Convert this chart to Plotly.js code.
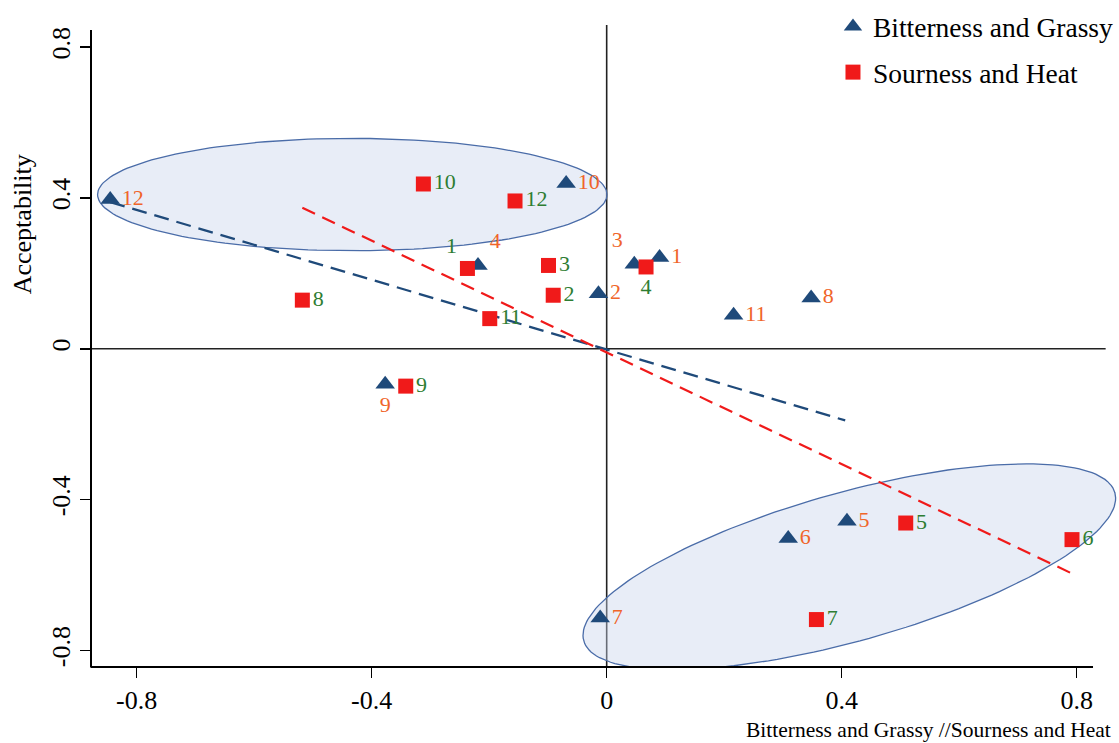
<!DOCTYPE html>
<html>
<head>
<meta charset="utf-8">
<script src="https://cdn.plot.ly/plotly-3.0.1.min.js"></script>
<style>html,body{margin:0;padding:0;background:#fff;}#chart{width:1119px;height:743px;}</style>
</head>
<body>
<div id="chart"></div>
<script>
// Bitterness and Grassy (triangles)
const bgLabels = ['12','10','4','2','3','1','11','8','9','6','5','7'];
const bgX = [-0.845, -0.069, -0.219, -0.014, 0.047, 0.090, 0.216, 0.348, -0.377, 0.309, 0.409, -0.011];
const bgY = [0.396, 0.438, 0.221, 0.146, 0.224, 0.242, 0.089, 0.135, -0.094, -0.503, -0.457, -0.714];
// Sourness and Heat (squares)
const shLabels = ['10','12','1','3','2','11','4','8','9','5','6','7'];
const shX = [-0.312, -0.156, -0.237, -0.099, -0.091, -0.199, 0.067, -0.518, -0.342, 0.509, 0.792, 0.357];
const shY = [0.437, 0.392, 0.213, 0.221, 0.142, 0.080, 0.217, 0.129, -0.099, -0.462, -0.506, -0.718];
// dashed trend lines (end points)
const bgLineX = [-0.845, 0.406];
const bgLineY = [0.389, -0.190];
const shLineX = [-0.518, 0.792];
const shLineY = [0.374, -0.596];
// confidence ellipses: centre and conjugate half-axis vectors (data units)
const ellCx = [-0.433, 0.413];
const ellCy = [0.409, -0.578];
const ellUx = [0.4335, 0.452];
const ellUy = [0.0, 0.1965];
const ellVx = [0.0, 0.034];
const ellVy = [0.149, -0.1896];

// label placement (style)
const bgTextPos = ['middle right','middle right','top right','middle right','top left','middle right','middle right','middle right','bottom center','middle right','middle right','middle right'];
const shTextPos = ['middle right','middle right','top left','middle right','middle right','middle right','bottom center','middle right','middle right','middle right','middle right','middle right'];

const SERIF = '"Liberation Serif", "Times New Roman", serif';
const traces = [];

for (let k = 0; k < ellCx.length; k++) {
  const ex = [], ey = [];
  const n = 180;
  for (let i = 0; i <= n; i++) {
    const t = 2 * Math.PI * i / n;
    ex.push(ellCx[k] + ellUx[k] * Math.cos(t) + ellVx[k] * Math.sin(t));
    ey.push(ellCy[k] + ellUy[k] * Math.cos(t) + ellVy[k] * Math.sin(t));
  }
  traces.push({
    x: ex, y: ey, type: 'scatter', mode: 'lines', fill: 'toself',
    fillcolor: 'rgba(200,212,237,0.42)',
    line: {color: '#4a6ca8', width: 1.3},
    showlegend: false, hoverinfo: 'skip'
  });
}

traces.push({
  x: bgLineX, y: bgLineY, type: 'scatter', mode: 'lines',
  line: {color: '#1f4a7a', width: 2.3, dash: '15px,8px'},
  showlegend: false, hoverinfo: 'skip'
});
traces.push({
  x: shLineX, y: shLineY, type: 'scatter', mode: 'lines',
  line: {color: '#f01a1a', width: 2.2, dash: '14px,8px'},
  showlegend: false, hoverinfo: 'skip'
});

traces.push({
  x: bgX, y: bgY, text: bgLabels, type: 'scatter', mode: 'markers+text',
  name: 'Bitterness and Grassy', legendgroup: 'a', cliponaxis: false,
  marker: {symbol: 'triangle-up', size: 17, color: '#1f4a7a'},
  textposition: bgTextPos,
  textfont: {family: SERIF, size: 22, color: '#f0652a'}
});
traces.push({
  x: shX, y: shY, text: shLabels, type: 'scatter', mode: 'markers+text',
  name: 'Sourness and Heat', legendgroup: 'b', cliponaxis: false,
  marker: {symbol: 'square', size: 15, color: '#f01a1a'},
  textposition: shTextPos,
  textfont: {family: SERIF, size: 22, color: '#2e7d32'}
});

const axisCommon = {
  showgrid: false, zeroline: false,
  ticks: 'outside', ticklen: 10, tickwidth: 1.6, tickcolor: '#000',
  tickfont: {family: SERIF, size: 26, color: '#000'},
  automargin: false, fixedrange: true
};

const layout = {
  width: 1119, height: 743,
  margin: {l: 92, r: 0, t: 0, b: 76, autoexpand: false},
  paper_bgcolor: '#fff', plot_bgcolor: '#fff',
  font: {family: SERIF, color: '#000'},
  xaxis: Object.assign({}, axisCommon, {
    domain: [0, 1],
    range: [-0.876, 0.872],
    showline: false,
    tickvals: [-0.8, -0.4, 0, 0.4, 0.8],
    ticktext: ['-0.8', '-0.4', '0', '0.4', '0.8']
  }),
  yaxis: Object.assign({}, axisCommon, {
    domain: [0, 0.9546],
    range: [-0.8438, 0.8446],
    showline: true, linecolor: '#000', linewidth: 2,
    tickvals: [-0.8, -0.4, 0, 0.4, 0.8],
    ticktext: ['-0.8', '-0.4', '0', '0.4', '0.8'],
    tickangle: -90
  }),
  showlegend: true,
  legend: {
    x: 0.7215, y: 0.997, xanchor: 'left', yanchor: 'top',
    bgcolor: 'rgba(0,0,0,0)', traceorder: 'grouped', tracegroupgap: 7,
    font: {family: SERIF, size: 27.5, color: '#000'}
  },
  shapes: [
    // bottom axis line (ends before the plot edge, as in the original)
    {type: 'line', xref: 'paper', yref: 'paper', x0: -0.0015, x1: 0.9747, y0: 0, y1: 0,
     line: {color: '#000', width: 2}, layer: 'above'},
    // zero reference lines
    {type: 'line', xref: 'paper', yref: 'y', x0: 0, x1: 0.987, y0: 0, y1: 0,
     line: {color: '#222', width: 1.6}, layer: 'below'},
    {type: 'line', xref: 'x', yref: 'paper', x0: 0, x1: 0, y0: 0, y1: 0.9625,
     line: {color: '#222', width: 1.6}, layer: 'below'}
  ],
  annotations: [
    {text: 'Acceptability', xref: 'paper', yref: 'paper', x: -0.068, y: 0.664,
     xanchor: 'center', yanchor: 'middle', textangle: -90, showarrow: false,
     font: {family: SERIF, size: 26, color: '#000'}},
    {text: 'Bitterness and Grassy //Sourness and Heat', xref: 'paper', yref: 'paper',
     x: 0.994, y: -0.0945, xanchor: 'right', yanchor: 'middle', showarrow: false,
     font: {family: SERIF, size: 21.5, color: '#000'}}
  ]
};

Plotly.newPlot('chart', traces, layout, {staticPlot: true, displayModeBar: false});
</script>
</body>
</html>
